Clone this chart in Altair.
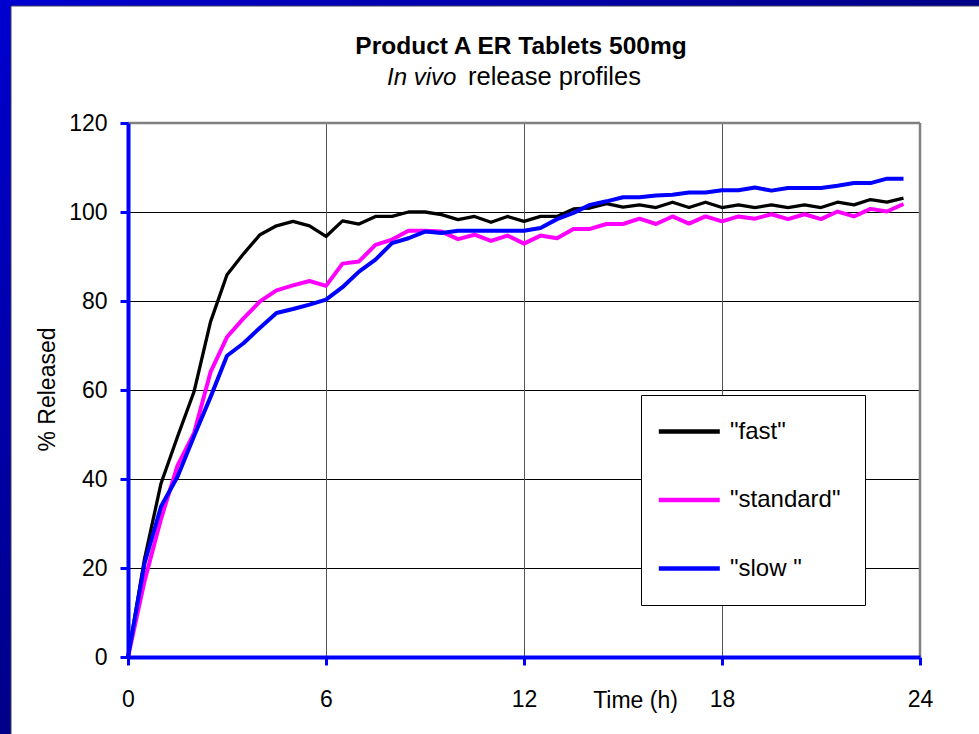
import altair as alt
import pandas as pd

FONT = "Liberation Sans"

# ---------------- data ----------------
time_h = [0, 0.5, 1, 1.5, 2, 2.5, 3, 3.5, 4, 4.5, 5, 5.5, 6, 6.5, 7, 7.5,
          8, 8.5, 9, 9.5, 10, 10.5, 11, 11.5, 12, 12.5, 13, 13.5, 14, 14.5,
          15, 15.5, 16, 16.5, 17, 17.5, 18, 18.5, 19, 19.5, 20, 20.5, 21,
          21.5, 22, 22.5, 23, 23.5]

fast = [0, 22, 39, 49.5, 59.6, 75.3, 85.9, 90.6, 94.9, 96.9, 97.9, 96.9,
        94.5, 98.0, 97.3, 99.0, 99.0, 100.0, 100.0, 99.4, 98.3, 99.0, 97.7,
        99.0, 97.9, 99.0, 99.0, 100.7, 100.9, 101.9, 101.1, 101.6, 101.0,
        102.2, 101.0, 102.2, 101.0, 101.6, 101.0, 101.6, 101.0, 101.6,
        101.0, 102.2, 101.6, 102.8, 102.2, 103.1]

standard = [0, 17, 31, 43, 50.3, 64, 71.9, 76.1, 79.9, 82.4, 83.5, 84.5,
            83.4, 88.4, 88.9, 92.6, 93.8, 95.8, 95.8, 95.6, 93.9, 94.9, 93.5,
            94.7, 92.9, 94.7, 94.1, 96.2, 96.2, 97.3, 97.3, 98.5, 97.3, 99.0,
            97.4, 99.0, 97.9, 99.0, 98.5, 99.5, 98.4, 99.5, 98.4, 100.1, 99.0,
            100.7, 100.1, 101.8]

slow = [0, 21, 33.8, 40.5, 49.6, 58.4, 67.7, 70.5, 74.0, 77.3, 78.2, 79.2,
        80.3, 83.1, 86.6, 89.3, 93.0, 94.1, 95.6, 95.3, 95.8, 95.8, 95.8,
        95.8, 95.8, 96.4, 98.4, 99.8, 101.6, 102.4, 103.3, 103.3, 103.7,
        103.9, 104.4, 104.4, 104.9, 104.9, 105.5, 104.8, 105.4, 105.4,
        105.4, 105.9, 106.5, 106.5, 107.5, 107.5]

series_names = ['"fast"', '"standard"', '"slow "']
series_colors = ["#000000", "#FF00FF", "#0000FF"]

x_ticks = [0, 6, 12, 18, 24]
y_ticks = [0, 20, 40, 60, 80, 100, 120]
h_grid = [20, 40, 60, 80, 100]
v_grid = [6, 12, 18]

TITLE = "Product A ER Tablets 500mg"
SUB_ITALIC = "In vivo"
SUB_REST = "release profiles"

# ---------------- tables ----------------
rows = []
for name, vals in zip(series_names, [fast, standard, slow]):
    for t, v in zip(time_h, vals):
        rows.append({"time": t, "pct": v, "series": name})
df = pd.DataFrame(rows)

W, H = 792, 534
PAD_L, PAD_T = 128, 123
TOTAL_W, TOTAL_H = 979, 734

X_ENC = alt.X(
    "time:Q",
    scale=alt.Scale(domain=[0, 24], nice=False, zero=False),
    axis=alt.Axis(
        values=x_ticks, title="Time (h)", format="d",
        titleFont=FONT, titleFontSize=23, titleFontWeight="normal", titleColor="black",
        titleX=507, titleY=50, titleAlign="center", titleBaseline="alphabetic",
        labelFont=FONT, labelFontSize=23, labelColor="black", labelPadding=23,
        labelFlush=False, labelOverlap=False,
        domainColor="#0000FF", domainWidth=4, tickColor="#0000FF", tickWidth=3,
        tickSize=8, grid=False, zindex=1,
    ),
)
Y_ENC = alt.Y(
    "pct:Q",
    scale=alt.Scale(domain=[0, 120], nice=False, zero=True),
    axis=alt.Axis(
        values=y_ticks, title="% Released", format="d",
        titleFont=FONT, titleFontSize=23, titleFontWeight="normal", titleColor="black",
        titleX=-81, titleY=266, titleAngle=270, titleAlign="center", titleBaseline="middle",
        labelFont=FONT, labelFontSize=23, labelColor="black", labelPadding=13,
        labelFlush=False, labelOverlap=False,
        domainColor="#0000FF", domainWidth=4, tickColor="#0000FF", tickWidth=3,
        tickSize=8, grid=False, zindex=1,
    ),
)
COLOR_ENC = alt.Color(
    "series:N",
    scale=alt.Scale(domain=series_names, range=series_colors),
    sort=series_names,
    legend=alt.Legend(
        title=None, orient="none", legendX=513, legendY=272, direction="vertical",
        fillColor="white", strokeColor="black", padding=24,
        symbolType="M-1.87,0H4.23", symbolSize=400, symbolStrokeWidth=4.5,
        labelFont=FONT, labelFontSize=24, labelColor="black", labelOffset=40,
        rowPadding=43.5, labelLimit=300,
    ),
)

one = pd.DataFrame({"k": [0]})

# frame background (gradient blue border) and white panel
frame = alt.Chart(one).mark_rect(
    color=alt.LinearGradient(
        gradient="linear",
        stops=[alt.GradientStop(color="#0000D0", offset=0),
               alt.GradientStop(color="#000088", offset=0.5),
               alt.GradientStop(color="#000080", offset=1)],
        x1=0, y1=0, x2=1, y2=1,
    )
).encode(
    x=alt.value(-PAD_L), x2=alt.value(TOTAL_W - PAD_L),
    y=alt.value(-PAD_T), y2=alt.value(TOTAL_H - PAD_T),
)
panel = alt.Chart(one).mark_rect(fill="white", stroke="#404060", strokeWidth=1).encode(
    x=alt.value(11 - PAD_L), x2=alt.value(TOTAL_W - PAD_L + 2),
    y=alt.value(6 - PAD_T), y2=alt.value(TOTAL_H - PAD_T + 2),
)

hgrid = alt.Chart(pd.DataFrame({"pct": h_grid})).mark_rule(
    color="#000000", strokeWidth=1, yOffset=0.5).encode(y=Y_ENC)
top_rule = alt.Chart(pd.DataFrame({"pct": [120]})).mark_rule(
    color="#808080", strokeWidth=2.5).encode(y=Y_ENC)
vgrid = alt.Chart(pd.DataFrame({"time": v_grid})).mark_rule(
    color="#555555", strokeWidth=1, xOffset=0.5).encode(x=X_ENC)
right_rule = alt.Chart(pd.DataFrame({"time": [24]})).mark_rule(
    color="#808080", strokeWidth=2.5).encode(x=X_ENC)

line_fast = alt.Chart(df).transform_filter(
    alt.datum.series == series_names[0]
).mark_line(strokeWidth=3.3, strokeJoin="round").encode(
    x=X_ENC, y=Y_ENC, color=COLOR_ENC)
line_rest = alt.Chart(df).transform_filter(
    alt.datum.series != series_names[0]
).mark_line(strokeWidth=4, strokeJoin="round").encode(
    x=X_ENC, y=Y_ENC, color=COLOR_ENC)

title = alt.Chart(pd.DataFrame({"text": [TITLE]})).mark_text(
    font=FONT, fontSize=24.5, fontWeight="bold", align="center",
    baseline="alphabetic", color="black",
).encode(x=alt.value(521 - PAD_L), y=alt.value(54 - PAD_T), text="text:N")
sub1 = alt.Chart(pd.DataFrame({"text": [SUB_ITALIC]})).mark_text(
    font=FONT, fontSize=24, fontStyle="italic", align="left",
    baseline="alphabetic", color="black",
).encode(x=alt.value(387 - PAD_L), y=alt.value(85 - PAD_T), text="text:N")
sub2 = alt.Chart(pd.DataFrame({"text": [SUB_REST]})).mark_text(
    font=FONT, fontSize=25.5, align="left",
    baseline="alphabetic", color="black",
).encode(x=alt.value(468 - PAD_L), y=alt.value(85 - PAD_T), text="text:N")

chart = alt.layer(
    frame, panel, hgrid, vgrid, top_rule, right_rule,
    line_fast, line_rest, title, sub1, sub2,
).properties(
    width=W, height=H,
    autosize=alt.AutoSizeParams(type="none"),
    padding={"left": PAD_L, "top": PAD_T,
             "right": TOTAL_W - PAD_L - W, "bottom": TOTAL_H - PAD_T - H},
).configure_view(stroke=None).configure(background="white")

chart.save("out.html", embed_options={"renderer": "svg", "actions": False})
